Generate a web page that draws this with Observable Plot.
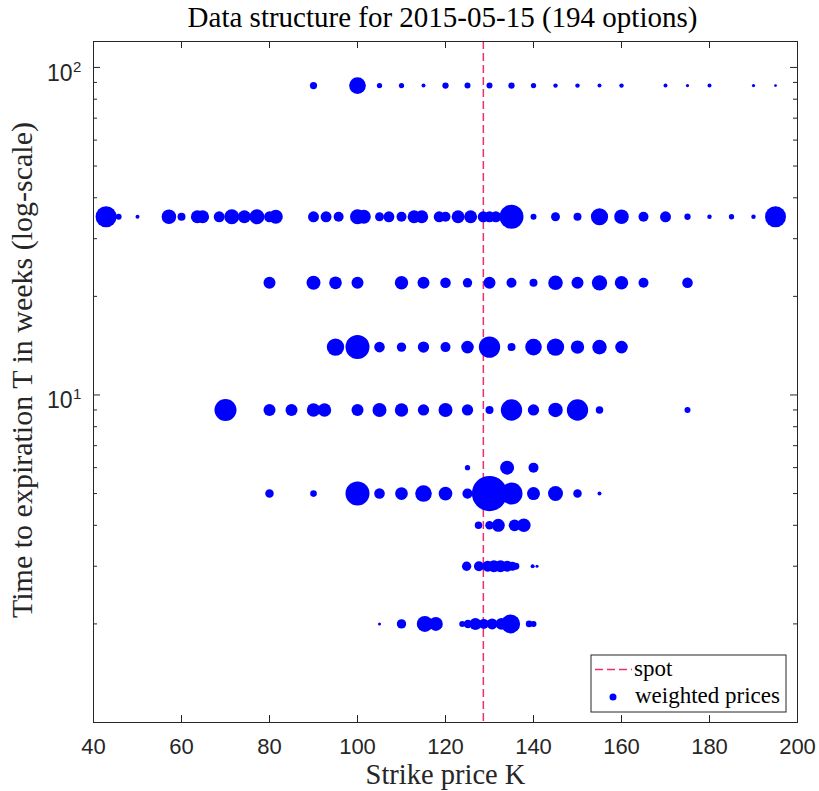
<!DOCTYPE html>
<html><head><meta charset="utf-8">
<script src="https://cdn.jsdelivr.net/npm/d3@7"></script>
<script src="https://cdn.jsdelivr.net/npm/@observablehq/plot@0.6"></script>
<style>body{margin:0;background:#fff}#chart svg{display:block}</style>
</head><body><div id="chart"></div>
<script>
const titleText = "Data structure for 2015-05-15 (194 options)";
const xLabel = "Strike price K";
const yLabel = "Time to expiration T in weeks (log-scale)";
const legendLabels = ["spot", "weighted prices"];
const spot = 128.6;
const xTicks = [40, 60, 80, 100, 120, 140, 160, 180, 200];
const yMajor = [10, 100];
const yExponents = ["1", "2"];
const yMinor = [2, 3, 4, 5, 6, 7, 8, 9, 20, 30, 40, 50, 60, 70, 80, 90];

// maturities in weeks
const maturities = [88, 35, 22, 14, 9, 6, 5, 4, 3, 2];

const strikes88 = [90, 100, 105, 110, 115, 120, 125, 130, 135, 140, 145, 150, 155, 160, 170, 175, 180, 190, 195];
const weights88 = [13, 70, 7, 7, 4, 10, 9, 9, 10, 7, 5, 5, 4, 5, 4, 2.6, 4, 2.6, 2];

const strikes35 = [42.86, 45.71, 50, 57.14, 60, 63.6, 64.8, 68.57, 71.43, 74.29, 77.14, 80, 81.43, 90, 92.86, 95.71, 100, 101.43, 105, 107.14, 110, 112.86, 114.6, 118.57, 120, 122.86, 125.71, 128.57, 130, 131.43, 135, 140, 145, 150, 155, 160, 165, 170, 175, 180, 185, 190, 195];
const weights35 = [110, 9, 4, 53, 16, 42, 42, 30, 56, 42, 56, 30, 49, 30, 30, 25, 56, 49, 20, 30, 25, 42, 42, 30, 25, 42, 42, 30, 30, 30, 144, 9, 20, 16, 74, 53, 25, 30, 10, 5, 7, 5, 110];

const strikes22 = [80, 90, 95, 100, 110, 115, 120, 125, 130, 135, 140, 145, 150, 155, 160, 165, 175];
const weights22 = [36, 49, 40, 36, 45, 36, 28, 22, 36, 25, 16, 53, 36, 59, 45, 25, 28];

const strikes14 = [95, 100, 105, 110, 115, 120, 125, 130, 135, 140, 145, 150, 155, 160];
const weights14 = [76, 144, 28, 22, 32, 25, 40, 114, 16, 69, 76, 45, 53, 40];

const strikes9 = [70, 80, 85, 90, 92.5, 100, 105, 110, 115, 120, 125, 130, 135, 140, 145, 150, 155, 175];
const weights9 = [121, 36, 36, 45, 45, 36, 49, 45, 32, 49, 32, 16, 114, 32, 53, 114, 14, 9];

const strikes6 = [125, 134, 140];
const weights6 = [7, 49, 25];

const strikes5 = [80, 90, 100, 105, 110, 115, 120, 125, 130, 135, 140, 145, 150, 155];
const weights5 = [18, 11, 144, 28, 40, 69, 47, 26, 310, 121, 42, 56, 18, 4];

const strikes4 = [127.5, 130, 132, 135.7, 137.8];
const weights4 = [14, 18, 42, 34, 46];

const strikes3 = [124.8, 127.6, 129.6, 131, 132.5, 134, 135.2, 136, 139.8, 140.8];
const weights3 = [22, 25, 30, 36, 36, 30, 20, 12, 4, 2.3];

const strikes2 = [105, 110, 115.3, 117.8, 123.8, 125.1, 126.8, 128.7, 130.6, 132.7, 134.8, 139, 140];
const weights2 = [2.3, 22, 64, 49, 9, 18, 36, 25, 30, 34, 90, 11, 9];

const strikeRows = [strikes88, strikes35, strikes22, strikes14, strikes9, strikes6, strikes5, strikes4, strikes3, strikes2];
const weightRows = [weights88, weights35, weights22, weights14, weights9, weights6, weights5, weights4, weights3, weights2];

const options = [];
maturities.forEach((T, i) => strikeRows[i].forEach((K, j) => options.push({T, K, w: weightRows[i][j]})));

const W = 819, H = 791, mL = 93, mR = 22, mT = 41, mB = 69;
const fw = W - mL - mR, fh = H - mT - mB;
const axisColor = "#262626";
const serif = "'Liberation Serif', 'Times New Roman', serif";
const sans = "'Liberation Sans', Arial, sans-serif";
const spotColor = "#ea2f6c";

const chart = Plot.plot({
  width: W, height: H,
  marginLeft: mL, marginRight: mR, marginTop: mT, marginBottom: mB,
  x: {domain: [40, 200], axis: null},
  y: {type: "log", domain: [1, 120], axis: null},
  r: {type: "sqrt", domain: [0, 324], range: [0, 18]},
  style: {background: "#fff"},
  marks: [
    Plot.ruleX([spot], {stroke: spotColor, strokeWidth: 1.5, strokeDasharray: "8,4"}),
    Plot.dot(options, {x: "K", y: "T", r: "w", fill: "#0000ff", stroke: "none"}),
    Plot.frame({stroke: axisColor, strokeWidth: 1}),
    // x ticks (inward), bottom and top
    Plot.ruleX(xTicks, {x: d => d, insetTop: fh - 7, stroke: axisColor}),
    Plot.ruleX(xTicks, {x: d => d, insetBottom: fh - 7, stroke: axisColor}),
    // y ticks (inward), left and right
    Plot.ruleY(yMajor, {y: d => d, insetRight: fw - 7, stroke: axisColor}),
    Plot.ruleY(yMajor, {y: d => d, insetLeft: fw - 7, stroke: axisColor}),
    Plot.ruleY(yMinor, {y: d => d, insetRight: fw - 4, stroke: axisColor}),
    Plot.ruleY(yMinor, {y: d => d, insetLeft: fw - 4, stroke: axisColor}),
    // x tick labels
    Plot.text(xTicks, {x: d => d, text: d => String(d), frameAnchor: "bottom", textAnchor: "middle", lineAnchor: "top", dy: 16, fontSize: 22, fontFamily: sans, fill: axisColor}),
    // y tick labels 10^n
    Plot.text(yMajor, {y: d => d, text: () => "10", frameAnchor: "left", textAnchor: "end", lineAnchor: "middle", dx: -21, dy: 6, fontSize: 23, fontFamily: sans, fill: axisColor}),
    Plot.text(yMajor, {y: d => d, text: (d, i) => yExponents[i], frameAnchor: "left", textAnchor: "start", lineAnchor: "middle", dx: -20.5, dy: -0.5, fontSize: 15, fontFamily: sans, fill: axisColor}),
    // title and axis labels
    Plot.text([titleText], {text: d => d, frameAnchor: "top", textAnchor: "middle", lineAnchor: "bottom", dx: -3, dy: -14.3, fontSize: 29, fontFamily: serif, fill: "#000"}),
    Plot.text([xLabel], {text: d => d, frameAnchor: "bottom", textAnchor: "middle", lineAnchor: "bottom", dy: 61.3, fontSize: 28.5, fontFamily: serif, fill: axisColor}),
    Plot.text([yLabel], {text: d => d, frameAnchor: "left", textAnchor: "middle", lineAnchor: "bottom", rotate: -90, dx: -61.5, dy: -12, fontSize: 30, fontFamily: serif, fill: axisColor})
  ]
});

// legend box (bottom right, inside axes)
const svg = d3.select(chart);
const lg = svg.append("g").attr("class", "legend").attr("text-anchor", "start");
const bx = 591, by = 655, bw = 195, bh = 57;
lg.append("rect").attr("x", bx).attr("y", by).attr("width", bw).attr("height", bh)
  .attr("fill", "#fff").attr("stroke", axisColor).attr("stroke-width", 1);
lg.append("line").attr("x1", bx + 4).attr("x2", bx + 41).attr("y1", by + 14.5).attr("y2", by + 14.5)
  .attr("stroke", spotColor).attr("stroke-width", 1.5).attr("stroke-dasharray", "8,4");
lg.append("text").attr("x", bx + 43).attr("y", by + 20.5).attr("text-anchor", "start").text(legendLabels[0])
  .attr("font-family", serif).attr("font-size", 23).attr("fill", "#000");
lg.append("circle").attr("cx", bx + 22).attr("cy", by + 42).attr("r", 3.5).attr("fill", "#0000ff");
lg.append("text").attr("x", bx + 44).attr("y", by + 47.5).attr("text-anchor", "start").text(legendLabels[1])
  .attr("font-family", serif).attr("font-size", 23).attr("fill", "#000");

document.getElementById("chart").appendChild(chart);
</script>
</body></html>
